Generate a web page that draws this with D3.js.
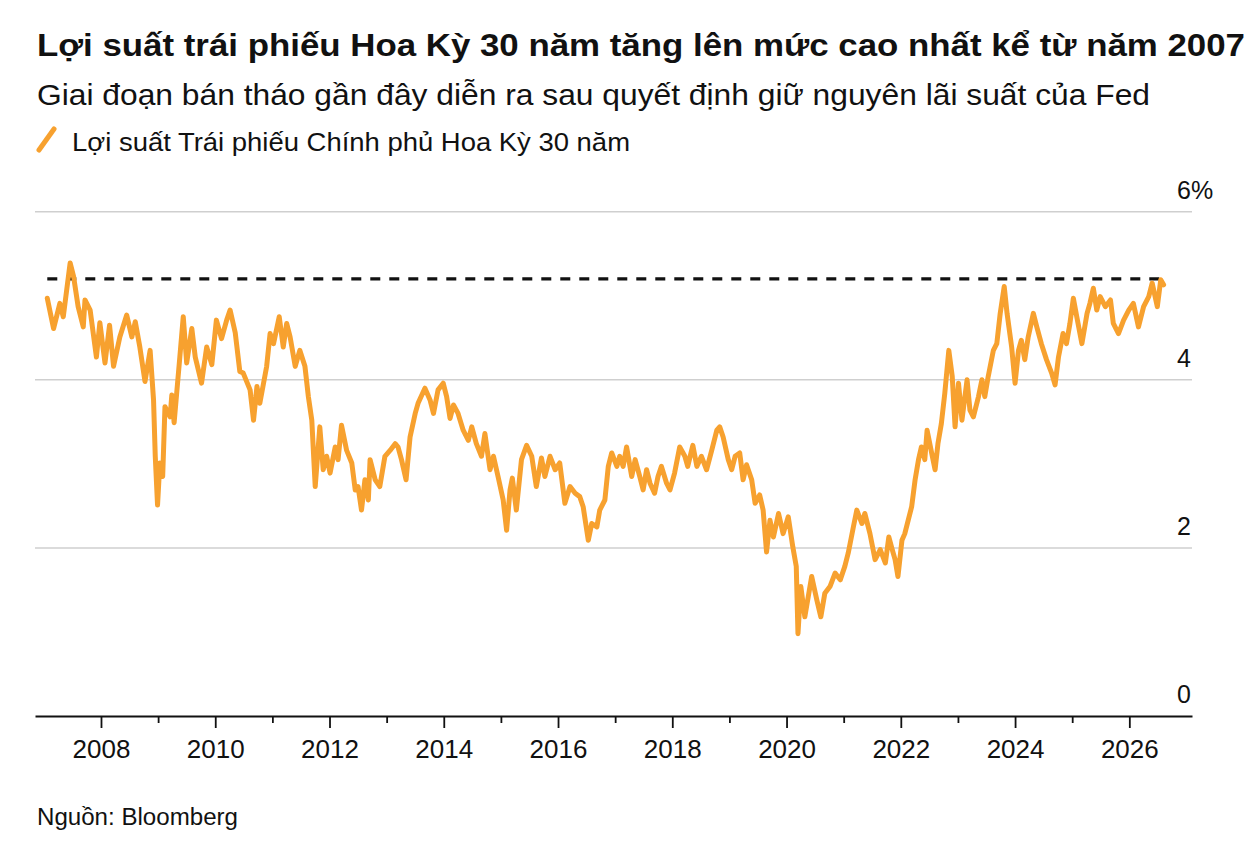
<!DOCTYPE html>
<html>
<head>
<meta charset="utf-8">
<script src="https://cdn.jsdelivr.net/npm/d3@7"></script>
<style>
  body { margin: 0; background: #fff; }
  text { font-family: "Liberation Sans", Arial, sans-serif; fill: #111; }
  .narrow { font-family: "Liberation Sans Narrow", "Arial Narrow", "Liberation Sans", Arial, sans-serif; }
</style>
</head>
<body>
<div id="chart"></div>
<script>
// texts
var titleText = "Lợi suất trái phiếu Hoa Kỳ 30 năm tăng lên mức cao nhất kể từ năm 2007";
var subtitleText = "Giai đoạn bán tháo gần đây diễn ra sau quyết định giữ nguyên lãi suất của Fed";
var legendText = "Lợi suất Trái phiếu Chính phủ Hoa Kỳ 30 năm";
var sourceText = "Nguồn: Bloomberg";

// axis ticks
var majorYears = [2008, 2010, 2012, 2014, 2016, 2018, 2020, 2022, 2024, 2026];
var minorYears = [2009, 2011, 2013, 2015, 2017, 2019, 2021, 2023, 2025];
var yTicks = [0, 2, 4, 6];
var yTickLabels = ["0", "2", "4", "6%"];

// 2007 high, drawn as dashed reference
var peakLevel = [5.2];

// dates as decimal years
var years = [
  2007.06, 2007.17, 2007.28, 2007.34, 2007.46, 2007.52, 2007.60, 2007.69, 2007.72, 2007.81,
  2007.92, 2007.98, 2008.07, 2008.15, 2008.22, 2008.33, 2008.45, 2008.54, 2008.60, 2008.68,
  2008.77, 2008.86, 2008.92, 2008.95, 2008.99, 2009.03, 2009.08, 2009.12, 2009.21, 2009.24,
  2009.28, 2009.38, 2009.44, 2009.50, 2009.59, 2009.65, 2009.76, 2009.85, 2009.94, 2010.02,
  2010.11, 2010.20, 2010.26, 2010.35, 2010.43, 2010.49, 2010.61, 2010.67, 2010.73, 2010.78,
  2010.90, 2010.96, 2011.02, 2011.12, 2011.19, 2011.25, 2011.31, 2011.40, 2011.48, 2011.57,
  2011.63, 2011.69, 2011.75, 2011.83, 2011.89, 2011.95, 2012.01, 2012.10, 2012.15, 2012.21,
  2012.30, 2012.39, 2012.45, 2012.50, 2012.56, 2012.62, 2012.68, 2012.71, 2012.80, 2012.88,
  2012.97, 2013.06, 2013.15, 2013.20, 2013.26, 2013.34, 2013.41, 2013.50, 2013.55, 2013.67,
  2013.76, 2013.82, 2013.90, 2013.99, 2014.05, 2014.11, 2014.17, 2014.25, 2014.34, 2014.43,
  2014.49, 2014.57, 2014.66, 2014.72, 2014.81, 2014.87, 2014.95, 2015.04, 2015.10, 2015.16,
  2015.20, 2015.27, 2015.36, 2015.45, 2015.54, 2015.62, 2015.71, 2015.77, 2015.86, 2015.95,
  2016.03, 2016.12, 2016.21, 2016.30, 2016.38, 2016.44, 2016.53, 2016.59, 2016.68, 2016.73,
  2016.82, 2016.88, 2016.94, 2017.03, 2017.08, 2017.14, 2017.20, 2017.29, 2017.35, 2017.43,
  2017.49, 2017.55, 2017.61, 2017.69, 2017.75, 2017.81, 2017.90, 2017.96, 2018.04, 2018.13,
  2018.22, 2018.27, 2018.36, 2018.43, 2018.51, 2018.60, 2018.69, 2018.78, 2018.83, 2018.89,
  2018.98, 2019.04, 2019.10, 2019.18, 2019.24, 2019.30, 2019.39, 2019.45, 2019.53, 2019.59,
  2019.65, 2019.71, 2019.77, 2019.86, 2019.94, 2020.03, 2020.11, 2020.17, 2020.20, 2020.25,
  2020.32, 2020.38, 2020.44, 2020.53, 2020.60, 2020.67, 2020.76, 2020.85, 2020.94, 2021.02,
  2021.08, 2021.17, 2021.23, 2021.32, 2021.37, 2021.46, 2021.55, 2021.64, 2021.73, 2021.79,
  2021.85, 2021.90, 2021.95, 2022.02, 2022.07, 2022.13, 2022.19, 2022.25, 2022.31, 2022.36,
  2022.42, 2022.46, 2022.54, 2022.60, 2022.65, 2022.71, 2022.77, 2022.84, 2022.90, 2022.95,
  2023.01, 2023.07, 2023.16, 2023.21, 2023.27, 2023.36, 2023.42, 2023.47, 2023.53, 2023.62,
  2023.68, 2023.74, 2023.81, 2023.86, 2023.94, 2024.00, 2024.06, 2024.11, 2024.17, 2024.23,
  2024.32, 2024.38, 2024.46, 2024.55, 2024.64, 2024.70, 2024.76, 2024.84, 2024.90, 2024.96,
  2025.02, 2025.08, 2025.17, 2025.26, 2025.31, 2025.37, 2025.43, 2025.49, 2025.58, 2025.67,
  2025.72, 2025.81, 2025.90, 2025.99, 2026.07, 2026.16, 2026.25, 2026.34, 2026.40, 2026.49,
  2026.55, 2026.60
];

var yields = [
  4.97, 4.61, 4.91, 4.75, 5.39, 5.23, 4.87, 4.63, 4.95, 4.83,
  4.27, 4.68, 4.20, 4.65, 4.16, 4.51, 4.77, 4.51, 4.69, 4.39,
  3.98, 4.35, 3.76, 3.09, 2.51, 3.01, 2.85, 3.68, 3.56, 3.82,
  3.49, 4.27, 4.75, 4.20, 4.61, 4.27, 3.96, 4.39, 4.18, 4.71,
  4.49, 4.71, 4.83, 4.56, 4.10, 4.08, 3.88, 3.52, 3.92, 3.72,
  4.16, 4.55, 4.43, 4.75, 4.39, 4.67, 4.51, 4.16, 4.35, 4.16,
  3.80, 3.52, 2.73, 3.44, 2.93, 3.09, 2.89, 3.20, 3.05, 3.46,
  3.16, 3.01, 2.69, 2.73, 2.45, 2.81, 2.57, 3.05, 2.81, 2.73,
  3.09, 3.16, 3.24, 3.20, 3.05, 2.81, 3.32, 3.60, 3.72, 3.90,
  3.76, 3.60, 3.88, 3.96, 3.80, 3.54, 3.70, 3.60, 3.40, 3.28,
  3.44, 3.24, 3.09, 3.36, 2.93, 3.09, 2.85, 2.57, 2.21, 2.69,
  2.83, 2.45, 3.05, 3.22, 3.09, 2.73, 3.07, 2.85, 3.09, 2.93,
  3.01, 2.53, 2.73, 2.65, 2.61, 2.49, 2.09, 2.29, 2.25, 2.45,
  2.57, 2.97, 3.13, 2.97, 3.09, 2.97, 3.20, 2.85, 3.05, 2.85,
  2.69, 2.93, 2.77, 2.65, 2.85, 2.97, 2.77, 2.69, 2.89, 3.20,
  3.09, 2.97, 3.22, 2.97, 3.09, 2.93, 3.16, 3.40, 3.44, 3.32,
  3.05, 2.93, 3.09, 3.13, 2.81, 2.99, 2.81, 2.53, 2.63, 2.45,
  1.95, 2.33, 2.13, 2.41, 2.17, 2.37, 2.01, 1.78, 0.98, 1.54,
  1.18, 1.42, 1.66, 1.38, 1.18, 1.46, 1.54, 1.70, 1.62, 1.78,
  1.94, 2.25, 2.45, 2.29, 2.41, 2.17, 1.86, 1.98, 1.82, 2.13,
  1.98, 1.86, 1.66, 2.09, 2.17, 2.33, 2.49, 2.81, 3.05, 3.20,
  3.05, 3.40, 3.13, 2.93, 3.24, 3.48, 3.84, 4.35, 4.04, 3.44,
  3.96, 3.52, 4.00, 3.64, 3.56, 3.80, 4.00, 3.80, 4.04, 4.35,
  4.43, 4.79, 5.11, 4.79, 4.39, 3.96, 4.35, 4.47, 4.24, 4.51,
  4.79, 4.63, 4.43, 4.24, 4.08, 3.94, 4.27, 4.55, 4.43, 4.67,
  4.97, 4.75, 4.43, 4.79, 4.91, 5.09, 4.83, 4.99, 4.87, 4.95,
  4.67, 4.55, 4.71, 4.83, 4.91, 4.63, 4.87, 4.99, 5.15, 4.87,
  5.19, 5.13
];

var orange = "#f7a12f";

var series = years.map(function(d, i) { return {year: d, value: yields[i]}; });

var svg = d3.select("#chart")
            .append("svg")
            .attr("width", 1255)
            .attr("height", 848);

var x = d3.scaleLinear().domain([2006.845, 2027.097]).range([35, 1192]);
var y = d3.scaleLinear().domain([0, 6]).range([716, 211.7]);

// header
svg.append("text")
   .attr("class", "narrow")
   .attr("x", 37)
   .attr("y", 56)
   .attr("font-size", 32)
   .attr("font-weight", "bold")
   .attr("textLength", 1208)
   .attr("lengthAdjust", "spacingAndGlyphs")
   .text(titleText);

svg.append("text")
   .attr("class", "narrow")
   .attr("x", 37)
   .attr("y", 105)
   .attr("font-size", 29)
   .attr("textLength", 1113)
   .attr("lengthAdjust", "spacingAndGlyphs")
   .text(subtitleText);

// legend
svg.append("line")
   .attr("x1", 39)
   .attr("y1", 150)
   .attr("x2", 54)
   .attr("y2", 129)
   .attr("stroke", orange)
   .attr("stroke-width", 5)
   .attr("stroke-linecap", "round");

svg.append("text")
   .attr("class", "narrow")
   .attr("x", 72)
   .attr("y", 151)
   .attr("font-size", 26)
   .attr("textLength", 558)
   .attr("lengthAdjust", "spacingAndGlyphs")
   .text(legendText);

// gridlines + right labels
svg.append("g")
   .selectAll("line")
   .data(yTicks.filter(function(d) { return d > 0; }))
   .join("line")
   .attr("x1", 35)
   .attr("x2", 1192)
   .attr("y1", function(d) { return y(d); })
   .attr("y2", function(d) { return y(d); })
   .attr("stroke", "#cfcfcf")
   .attr("stroke-width", 1.5);

svg.append("g")
   .selectAll("text")
   .data(yTicks)
   .join("text")
   .attr("x", 1177)
   .attr("y", function(d) { return y(d) - 13; })
   .attr("font-size", 25)
   .text(function(d, i) { return yTickLabels[i]; });

// x axis
var xAxis = svg.append("g")
   .attr("transform", "translate(0," + y(0) + ")")
   .call(d3.axisBottom(x)
           .tickValues(majorYears)
           .tickFormat(d3.format("d"))
           .tickSize(12)
           .tickSizeOuter(0)
           .tickPadding(12));

xAxis.select(".domain").attr("stroke", "#111").attr("stroke-width", 1.8);
xAxis.selectAll(".tick line").attr("stroke", "#111").attr("stroke-width", 1.8);
xAxis.selectAll(".tick text")
     .attr("font-family", "Liberation Sans, Arial, sans-serif")
     .attr("font-size", 26)
     .attr("fill", "#111");

var xMinor = svg.append("g")
   .attr("transform", "translate(0," + y(0) + ")")
   .call(d3.axisBottom(x)
           .tickValues(minorYears)
           .tickFormat("")
           .tickSize(7)
           .tickSizeOuter(0));

xMinor.select(".domain").remove();
xMinor.selectAll(".tick line").attr("stroke", "#111").attr("stroke-width", 1.8);

// dashed 2007 level
svg.append("g")
   .selectAll("line")
   .data(peakLevel)
   .join("line")
   .attr("x1", x(years[0]))
   .attr("x2", x(years[years.length - 1]))
   .attr("y1", function(d) { return y(d); })
   .attr("y2", function(d) { return y(d); })
   .attr("stroke", "#111")
   .attr("stroke-width", 3.2)
   .attr("stroke-dasharray", "10 9");

// yield line
var line = d3.line()
             .x(function(d) { return x(d.year); })
             .y(function(d) { return y(d.value); });

svg.append("path")
   .datum(series)
   .attr("d", line)
   .attr("fill", "none")
   .attr("stroke", orange)
   .attr("stroke-width", 5)
   .attr("stroke-linejoin", "round")
   .attr("stroke-linecap", "round");

// source
svg.append("text")
   .attr("class", "narrow")
   .attr("x", 37)
   .attr("y", 825)
   .attr("font-size", 23)
   .attr("textLength", 201)
   .attr("lengthAdjust", "spacingAndGlyphs")
   .text(sourceText);
</script>
</body>
</html>
